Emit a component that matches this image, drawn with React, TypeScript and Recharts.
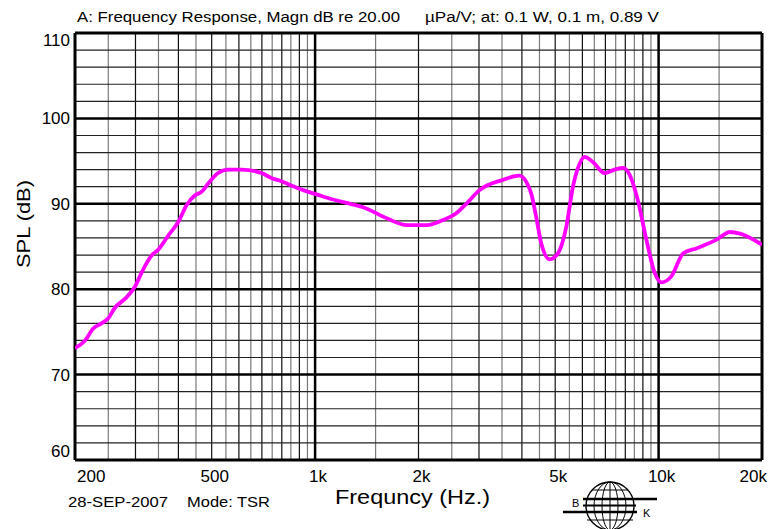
import React from 'react';
import { LineChart, Line, XAxis, YAxis, ReferenceLine } from 'recharts';

const freqs = [
  200, 214, 226, 239, 250, 261, 280, 299, 313, 335, 349, 374, 400, 422, 447, 467, 489, 522, 558, 611,
  699, 748, 791, 846, 923, 1010, 1127, 1232, 1380, 1617, 1850, 2116, 2355, 2577, 2755, 3010, 3520, 3930,
  4115, 4258, 4400, 4551, 4816, 5093, 5386, 5632, 5889, 6089, 6437, 6961, 7448, 7877, 8237, 8704, 9213,
  9745, 10200, 10890, 11800, 12920, 14760, 16130, 17270, 18880, 20000,
];
const splDb = [
  73.1, 74.0, 75.4, 76.0, 76.6, 77.8, 78.9, 80.3, 82.0, 84.0, 84.6, 86.3, 87.9, 89.8, 91.0, 91.4, 92.4, 93.6, 94.0, 94.0,
  93.6, 93.0, 92.7, 92.2, 91.6, 91.1, 90.5, 90.1, 89.6, 88.3, 87.5, 87.5, 88.1, 88.9, 90.0, 91.6, 92.8, 93.3,
  92.6, 91.2, 88.5, 85.4, 83.5, 84.2, 87.3, 92.0, 94.7, 95.5, 94.9, 93.6, 94.0, 94.2, 93.4, 90.4, 85.8,
  81.9, 80.8, 81.5, 84.2, 84.8, 85.8, 86.7, 86.5, 85.8, 85.2,
];

const xTicks = [200, 500, 1000, 2000, 5000, 10000, 20000];
const xTickLabels = ['200', '500', '1k', '2k', '5k', '10k', '20k'];
const yTicks = [60, 70, 80, 90, 100, 110];

// log-paper grid
const xGridHalf = [250, 350, 450, 550, 650, 750, 850, 950, 1500, 2500, 3500, 4500, 5500, 6500, 7500, 8500, 9500, 15000];
const xGrid = [300, 400, 500, 600, 700, 800, 900, 2000, 3000, 4000, 5000, 6000, 7000, 8000, 9000];
const xGridMajor = [1000, 10000];
const yGrid = [62, 64, 66, 68, 72, 74, 76, 78, 82, 84, 86, 88, 92, 94, 96, 98, 102, 104, 106, 108];
const yGridMajor = [70, 80, 90, 100];

const data = freqs.map((f, i) => ({ f, spl: splDb[i] }));

const FONT = '"Liberation Sans", Arial, Helvetica, sans-serif';

const XTick = (props: any) => {
  const { x, payload } = props;
  const i = xTicks.indexOf(payload.value);
  let anchor = 'middle';
  let dx = 3;
  if (i === 0) {
    anchor = 'start';
    dx = 2;
  } else if (i === xTicks.length - 1) {
    anchor = 'end';
    dx = 5;
  }
  return (
    <text x={x + dx} y={482} textAnchor={anchor} fontSize={17} fontFamily={FONT} fill="#000">
      {xTickLabels[i]}
    </text>
  );
};

const YTick = (props: any) => {
  const { y, payload } = props;
  let dy = 6;
  if (payload.value === 110) dy = 13;
  if (payload.value === 60) dy = -3;
  return (
    <text x={70} y={y + dy} textAnchor="end" fontSize={17} fontFamily={FONT} fill="#000">
      {payload.value}
    </text>
  );
};

const BkLogo = () => (
  <g stroke="#000" fill="none">
    <circle cx={610} cy={506} r={24} strokeWidth={1.4} />
    <ellipse cx={610} cy={506} rx={16} ry={24} strokeWidth={1} />
    <ellipse cx={610} cy={506} rx={8} ry={24} strokeWidth={1} />
    <line x1={610} y1={482} x2={610} y2={530} strokeWidth={1} />
    <line x1={592} y1={490} x2={628} y2={490} strokeWidth={1} />
    <line x1={587} y1={520} x2={633} y2={520} strokeWidth={1} />
    <line x1={583} y1={499} x2={657} y2={499} strokeWidth={2.5} />
    <line x1={583} y1={505.5} x2={636} y2={505.5} strokeWidth={2} />
    <line x1={563} y1={512} x2={637} y2={512} strokeWidth={2.5} />
    <text x={572} y={507} fontSize={11} fontFamily={FONT} fill="#000" stroke="none">B</text>
    <text x={643} y={517} fontSize={11} fontFamily={FONT} fill="#000" stroke="none">K</text>
  </g>
);

export default function App() {
  return (
    <div style={{ position: 'absolute', left: 0, top: 0, width: 768, height: 529, background: '#fff' }}>
      <LineChart width={768} height={529} data={data} margin={{ top: 33, right: 6, bottom: 0, left: 0 }}>
        <XAxis
          dataKey="f"
          type="number"
          scale="log"
          domain={[200, 20000]}
          allowDataOverflow
          ticks={xTicks}
          tick={<XTick />}
          axisLine={false}
          tickLine={false}
          height={69}
          interval={0}
        />
        <YAxis
          type="number"
          domain={[60, 110]}
          allowDataOverflow
          ticks={yTicks}
          tick={<YTick />}
          axisLine={false}
          tickLine={false}
          width={75}
          interval={0}
        />
        {xGridHalf.map((v) => (
          <ReferenceLine key={`xh${v}`} x={v} stroke="#7a7a7a" strokeWidth={1.2} />
        ))}
        {xGrid.map((v) => (
          <ReferenceLine key={`xg${v}`} x={v} stroke="#111" strokeWidth={1.2} />
        ))}
        {yGrid.map((v) => (
          <ReferenceLine key={`yg${v}`} y={v} stroke="#222" strokeWidth={1.2} />
        ))}
        {xGridMajor.map((v) => (
          <ReferenceLine key={`xm${v}`} x={v} stroke="#000" strokeWidth={2.5} />
        ))}
        {yGridMajor.map((v) => (
          <ReferenceLine key={`ym${v}`} y={v} stroke="#000" strokeWidth={2.5} />
        ))}
        <ReferenceLine x={200} stroke="#000" strokeWidth={3} />
        <ReferenceLine x={20000} stroke="#000" strokeWidth={3} />
        <ReferenceLine y={60} stroke="#000" strokeWidth={3} />
        <ReferenceLine y={110} stroke="#000" strokeWidth={3} />
        <Line
          dataKey="spl"
          type="monotone"
          stroke="#ff00ff"
          strokeWidth={3.8}
          dot={false}
          activeDot={false}
          isAnimationActive={false}
        />
      </LineChart>
      <svg
        width={768}
        height={529}
        style={{ position: 'absolute', left: 0, top: 0, pointerEvents: 'none' }}
      >
        <text x={77} y={22} fontSize={14} fontFamily={FONT} textLength={323} lengthAdjust="spacingAndGlyphs">
          A: Frequency Response, Magn dB re 20.00
        </text>
        <text x={425} y={22} fontSize={14} fontFamily={FONT} textLength={234} lengthAdjust="spacingAndGlyphs">
          µPa/V;  at: 0.1 W, 0.1 m, 0.89 V
        </text>
        <text
          transform="translate(30 224) rotate(-90)"
          textAnchor="middle"
          fontSize={19}
          fontFamily={FONT}
          textLength={88}
          lengthAdjust="spacingAndGlyphs"
        >
          SPL (dB)
        </text>
        <text x={335} y={504} fontSize={20} fontFamily={FONT} textLength={155} lengthAdjust="spacingAndGlyphs">
          Frequncy (Hz.)
        </text>
        <text x={68} y={507} fontSize={15} fontFamily={FONT} textLength={100} lengthAdjust="spacingAndGlyphs">
          28-SEP-2007
        </text>
        <text x={187} y={507} fontSize={15} fontFamily={FONT} textLength={83} lengthAdjust="spacingAndGlyphs">
          Mode: TSR
        </text>
        <BkLogo />
      </svg>
    </div>
  );
}
